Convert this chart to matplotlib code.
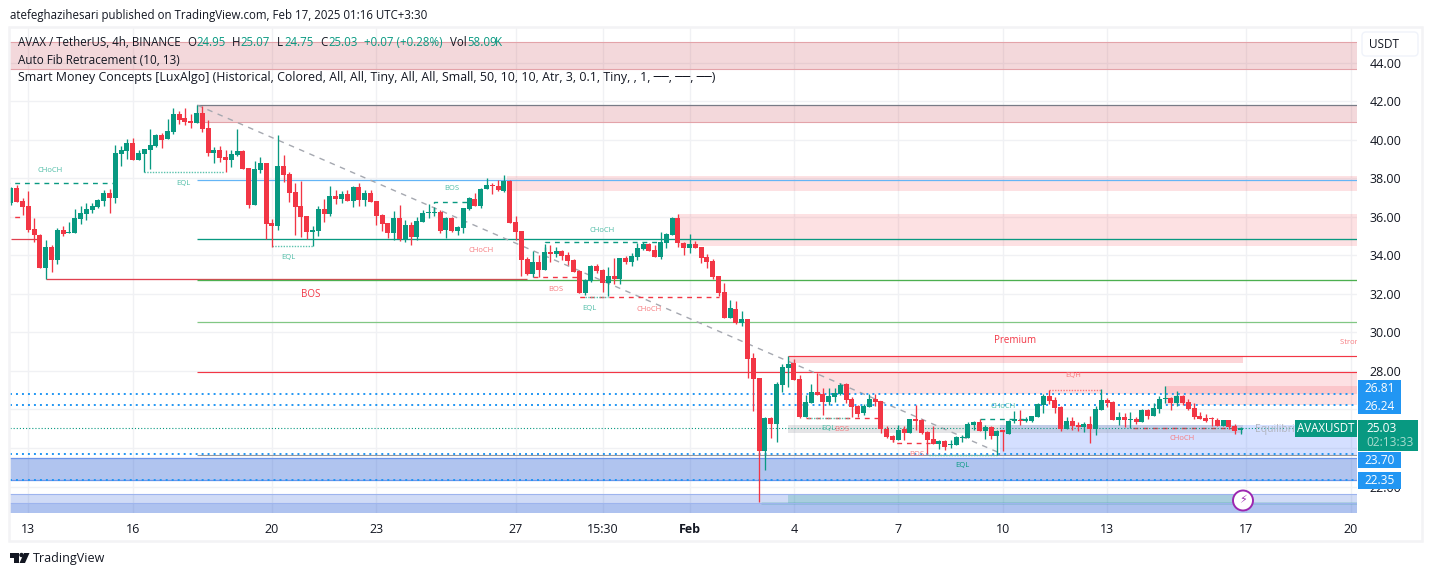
import matplotlib
matplotlib.use('Agg')
import matplotlib.pyplot as plt
from matplotlib.patches import Rectangle, Circle, Polygon, FancyBboxPatch

plt.rcParams['font.family'] = ['Open Sans', 'DejaVu Sans']

UP = '#089981'
DOWN = '#f23645'
INK = '#131722'
GRID = '#f0f1f4'
TAG = '#2196f3'

# 4h candles, oldest first
opens = [36.69, 37.47, 36.81, 36.55, 35.34, 35.05, 33.35, 34.43, 33.75, 35.31,
         35.15, 35.15, 35.88, 36.14, 36.34, 36.50, 36.81, 37.23, 36.97, 39.25,
         39.40, 39.82, 38.94, 39.25, 39.46, 39.66, 40.22, 40.03, 40.39, 41.32,
         41.12, 40.96, 40.86, 41.38, 40.60, 39.30, 39.46, 39.10, 38.95, 39.20,
         39.41, 38.53, 36.61, 38.43, 38.79, 35.68, 35.52, 38.63, 38.22, 37.29,
         36.56, 36.04, 35.21, 35.26, 36.40, 36.14, 37.08, 36.92, 37.18, 36.82,
         37.54, 36.87, 37.23, 36.82, 36.09, 35.68, 35.16, 35.94, 34.85, 35.57,
         34.95, 35.72, 36.19, 36.19, 36.24, 35.31, 35.93, 35.26, 35.41, 36.40,
         36.92, 36.55, 37.43, 37.64, 37.59, 37.33, 37.85, 35.72, 35.26, 33.80,
         33.03, 33.65, 33.23, 34.17, 34.06, 34.22, 34.01, 33.75, 33.18, 32.04,
         32.66, 33.44, 33.23, 32.56, 32.92, 32.77, 33.86, 33.65, 33.91, 34.33,
         34.59, 34.28, 33.91, 34.64, 35.05, 35.94, 34.64, 34.38, 34.59, 34.43,
         33.91, 33.70, 32.93, 32.10, 30.75, 31.21, 30.49, 30.70, 28.67, 27.64,
         23.85, 25.56, 25.25, 27.27, 28.15, 28.41, 27.58, 25.61, 26.34, 26.91,
         26.81, 26.39, 26.65, 26.81, 27.32, 26.55, 26.18, 25.82, 26.13, 26.55,
         26.44, 24.99, 24.63, 24.42, 24.99, 24.78, 25.51, 25.46, 24.83, 24.47,
         24.21, 24.37, 24.16, 24.16, 24.52, 24.52, 25.20, 25.35, 24.89, 25.09,
         24.63, 24.89, 24.73, 25.40, 25.46, 25.40, 25.40, 25.61, 26.23, 26.70,
         26.49, 26.13, 24.99, 25.40, 25.20, 25.09, 25.25, 24.99, 25.97, 26.49,
         26.39, 25.46, 25.61, 25.46, 25.51, 25.35, 25.97, 25.66, 26.03, 26.55,
         26.60, 26.34, 26.70, 26.39, 26.08, 25.66, 25.56, 25.54, 25.46, 25.15,
         25.46, 25.15, 24.95]
highs = [37.52, 37.64, 36.95, 37.33, 35.91, 35.08, 34.79, 34.53, 35.39, 35.51,
         35.74, 36.40, 36.55, 36.72, 36.72, 36.91, 37.38, 37.43, 39.72, 39.66,
         40.03, 40.08, 39.46, 39.51, 40.55, 40.29, 40.32, 41.06, 41.62, 41.48,
         41.64, 41.32, 41.79, 41.74, 41.01, 39.63, 39.67, 39.46, 39.46, 40.55,
         39.46, 38.53, 38.89, 39.10, 38.79, 35.88, 40.24, 39.20, 38.32, 37.75,
         37.86, 36.04, 35.52, 36.56, 36.92, 37.60, 37.39, 37.34, 37.39, 37.60,
         37.75, 37.39, 37.39, 36.82, 36.14, 35.68, 36.30, 36.61, 35.83, 35.73,
         36.00, 36.35, 36.66, 36.48, 36.35, 35.98, 35.98, 35.52, 36.45, 37.02,
         37.23, 37.49, 38.00, 37.75, 37.90, 38.16, 37.90, 36.03, 35.26, 33.92,
         34.22, 34.01, 34.58, 34.53, 34.43, 34.27, 34.17, 33.80, 33.23, 32.77,
         33.49, 33.54, 33.28, 33.39, 33.86, 33.86, 33.96, 34.12, 34.64, 34.69,
         34.64, 34.53, 35.21, 35.16, 35.99, 36.14, 34.69, 35.11, 34.74, 34.43,
         34.07, 33.81, 32.93, 32.56, 31.68, 31.63, 31.11, 30.70, 28.93, 27.64,
         25.61, 25.61, 27.43, 28.36, 28.78, 28.62, 27.79, 26.75, 27.32, 27.91,
         27.10, 27.12, 27.12, 27.38, 27.38, 26.65, 26.23, 26.29, 26.81, 26.81,
         26.44, 25.15, 24.68, 25.20, 25.15, 25.51, 26.23, 25.51, 24.89, 25.15,
         24.42, 24.42, 24.42, 24.63, 24.68, 25.35, 25.40, 25.51, 25.20, 25.15,
         24.94, 24.94, 25.46, 25.92, 25.98, 25.61, 25.66, 26.34, 26.80, 27.01,
         26.65, 26.18, 25.61, 25.61, 25.35, 25.35, 25.66, 26.18, 27.06, 26.60,
         26.44, 25.87, 25.82, 25.87, 25.61, 26.03, 26.03, 26.34, 26.70, 27.22,
         26.65, 26.96, 26.75, 26.55, 26.34, 25.87, 25.77, 25.61, 25.56, 25.46,
         25.46, 25.25, 25.07]
lows = [36.60, 36.78, 36.08, 35.22, 34.70, 33.35, 32.75, 33.15, 33.54, 35.01,
        35.15, 35.15, 35.62, 35.83, 36.21, 36.43, 36.55, 36.19, 36.71, 38.63,
        38.99, 38.94, 38.94, 38.31, 38.47, 39.61, 39.56, 40.03, 40.29, 40.80,
        40.75, 40.60, 40.86, 40.39, 39.15, 38.78, 38.84, 38.32, 38.58, 39.15,
        38.48, 36.46, 36.61, 38.27, 34.85, 34.43, 35.31, 37.80, 36.77, 35.05,
        34.95, 34.85, 34.48, 35.00, 35.73, 36.04, 36.66, 36.71, 36.82, 36.51,
        36.56, 36.56, 36.77, 35.57, 35.26, 34.90, 34.80, 34.74, 34.69, 34.54,
        34.80, 35.72, 35.93, 36.03, 35.15, 34.89, 35.20, 35.05, 35.15, 36.35,
        36.55, 36.45, 37.43, 37.18, 37.33, 37.28, 35.69, 34.79, 32.92, 32.97,
        32.87, 32.89, 33.23, 33.65, 33.91, 33.75, 33.49, 33.13, 32.04, 31.94,
        32.61, 33.08, 32.09, 31.88, 32.51, 32.51, 33.55, 33.45, 33.76, 34.28,
        34.22, 33.91, 33.81, 34.38, 35.05, 34.43, 34.02, 34.12, 34.38, 33.60,
        33.34, 32.77, 31.89, 30.75, 30.75, 30.44, 30.33, 27.64, 25.92, 21.20,
        22.86, 24.52, 24.32, 26.91, 27.17, 27.53, 25.56, 25.61, 26.34, 26.75,
        25.72, 26.23, 26.39, 26.75, 26.34, 25.61, 25.61, 25.72, 26.13, 26.18,
        24.78, 24.52, 24.32, 24.42, 24.42, 24.78, 24.94, 24.73, 23.69, 24.21,
        23.95, 23.90, 24.00, 24.16, 24.32, 24.52, 24.94, 24.89, 24.47, 24.47,
        23.64, 23.85, 24.73, 25.30, 25.20, 25.35, 25.35, 25.61, 25.82, 26.29,
        25.82, 24.89, 24.99, 24.94, 24.89, 24.83, 24.26, 24.68, 25.97, 26.13,
        25.46, 25.20, 25.09, 25.04, 25.25, 25.35, 25.51, 25.66, 25.82, 26.34,
        25.97, 26.18, 26.23, 25.97, 25.51, 25.51, 25.35, 25.15, 25.15, 25.15,
        24.99, 24.73, 24.75]
closes = [37.47, 36.78, 36.52, 35.31, 35.05, 33.35, 34.43, 33.75, 35.31, 35.10,
          35.19, 35.93, 36.19, 36.40, 36.55, 36.85, 37.23, 36.97, 39.30, 39.46,
          39.82, 38.94, 39.30, 39.49, 39.72, 40.23, 39.98, 40.44, 41.32, 41.01,
          40.91, 40.86, 41.38, 40.55, 39.30, 39.46, 39.05, 38.95, 39.26, 39.41,
          38.48, 36.61, 38.48, 38.79, 35.63, 35.52, 38.63, 38.17, 37.23, 36.51,
          35.99, 35.21, 35.31, 36.40, 36.14, 37.08, 36.92, 37.18, 36.82, 37.54,
          36.87, 37.23, 36.77, 36.04, 35.63, 35.16, 35.94, 34.85, 35.57, 34.95,
          35.78, 36.19, 36.24, 36.24, 35.26, 35.93, 35.26, 35.46, 36.45, 36.97,
          36.55, 37.43, 37.64, 37.61, 37.38, 37.85, 35.69, 35.20, 33.75, 33.03,
          33.65, 33.23, 34.17, 34.06, 34.22, 33.96, 33.70, 33.13, 32.04, 32.71,
          33.44, 33.18, 32.56, 32.92, 32.77, 33.86, 33.65, 33.96, 34.38, 34.59,
          34.22, 33.91, 34.69, 35.11, 35.94, 34.64, 34.38, 34.59, 34.38, 33.86,
          33.65, 32.87, 32.04, 30.75, 31.27, 30.49, 30.70, 28.62, 27.58, 23.85,
          25.56, 25.25, 27.32, 28.21, 28.36, 27.53, 25.61, 26.39, 26.91, 26.75,
          26.39, 26.70, 26.86, 27.27, 26.49, 26.13, 25.77, 26.18, 26.55, 26.39,
          24.99, 24.57, 24.42, 24.94, 24.78, 25.51, 25.40, 24.78, 24.42, 24.21,
          24.37, 24.06, 24.21, 24.57, 24.57, 25.25, 25.35, 24.89, 25.09, 24.63,
          24.89, 24.85, 25.40, 25.51, 25.40, 25.51, 25.66, 26.29, 26.70, 26.44,
          26.08, 24.99, 25.40, 25.15, 25.09, 25.25, 24.99, 26.03, 26.49, 26.34,
          25.46, 25.61, 25.46, 25.51, 25.35, 25.97, 25.66, 26.08, 26.55, 26.58,
          26.34, 26.70, 26.34, 26.03, 25.61, 25.51, 25.40, 25.51, 25.15, 25.46,
          25.09, 24.89, 25.03]

# axis labelling, 26.00 and 24.00 sit under the price tags
price_ticks = [44, 42, 40, 38, 36, 34, 32, 30, 28, 26, 24, 22]
price_labels = ['44.00', '42.00', '40.00', '38.00', '36.00', '34.00', '32.00', '30.00',
                '28.00', '', '', '22.00']
time_ticks = [3, 21, 45, 63, 87, 102, 117, 135, 153, 171, 189, 213, 231]
time_labels = ['13', '16', '20', '23', '27', '15:30', 'Feb', '4', '7', '10', '13', '17', '20']

# start, end, low, high, colour, alpha
zones = [
    (-1, 233, 43.66, 45.06, '#c43340', 0.19),
    (32.1, 233, 40.91, 41.79, '#c43340', 0.19),
    (85.5, 233, 37.33, 38.11, DOWN, 0.15),
    (115, 233, 34.48, 36.14, DOWN, 0.15),
    (134, 212.4, 28.41, 28.77, DOWN, 0.2),
    (139, 233, 26.80, 27.94, DOWN, 0.15),
    (199, 233, 26.80, 27.22, DOWN, 0.15),
    (199, 233, 26.25, 26.80, DOWN, 0.15),
    (170.5, 233, 23.64, 25.19, '#2962ff', 0.2),
    (134, 212.4, 24.78, 25.19, '#787b86', 0.2),
    (-1, 233, 22.34, 23.48, '#2a5fd6', 0.37),
    (-1, 233, 20.60, 21.62, '#2a5fd6', 0.22),
    (-1, 233, 20.60, 21.15, '#2a5fd6', 0.2),
    (134, 212.4, 21.15, 21.62, UP, 0.2),
]
# start, end, price, colour, width
levels = [
    (32.1, 233, 37.90, '#64b5f6', 0.9),
    (32.1, 233, 34.87, UP, 0.95),
    (0, 4.5, 34.84, '#e0404f', 0.9),
    (6, 89, 32.78, '#e0404f', 0.95),
    (32.1, 233, 32.72, '#4caf50', 0.95),
    (32.1, 233, 30.56, '#81c784', 0.9),
    (32.1, 233, 27.94, DOWN, 0.85),
    (134, 233, 28.77, DOWN, 0.85),
    (32.1, 233, 23.63, '#9598a1', 0.8),
    (129.3, 233, 21.17, UP, 0.95),
    (32.1, 233, 41.79, '#787b86', 0.9),
    (32.1, 233, 40.91, '#e3a3a9', 0.8),
    (-1, 233, 45.06, '#e3a3a9', 0.8),
    (-1, 233, 43.66, '#e3a3a9', 0.8),
    (-1, 233, 23.48, '#6d94e8', 0.9),
    (-1, 233, 22.34, '#6d94e8', 0.9),
    (-1, 233, 21.62, '#9db4ee', 0.8),
    (-1, 233, 21.15, '#9db4ee', 0.8),
]
# start, end, price, price at the start kink, colour
dashes = [
    (-1, 18, 37.77, 37.77, UP),
    (-1, 2.2, 36.01, 36.01, DOWN),
    (73, 79, 36.74, 36.20, UP),
    (92, 112, 34.69, 34.17, UP),
    (90, 98, 32.87, 32.87, DOWN),
    (98, 122, 31.83, 32.30, DOWN),
    (137, 149.5, 25.56, 25.56, DOWN),
    (152, 158.5, 24.26, 24.57, DOWN),
    (167, 175.5, 25.51, 25.51, UP),
    (193.5, 210.7, 25.06, 25.06, DOWN),
]
dots = [
    (23, 36.7, 38.32, '#5bc2ad'),
    (45, 52, 34.50, '#5bc2ad'),
    (99, 103, 31.83, '#5bc2ad'),
    (137.5, 144.5, 25.58, '#5bc2ad'),
    (158.3, 170, 23.65, '#5bc2ad'),
    (179, 188, 27.01, '#f77c80'),
]
alert_prices = [26.81, 26.24, 23.70, 22.35]
last_price = 25.03

# text, index, price, colour, size
labels = [
    ('CHoCH', 6.7, 38.42, '#4fbda7', 5.5), ('EQL', 29.8, 37.70, '#4fbda7', 5.5),
    ('BOS', 51.7, 31.99, DOWN, 7), ('EQL', 47.8, 33.91, '#4fbda7', 5.5),
    ('BOS', 76, 37.44, '#4fbda7', 5.5), ('CHoCH', 81, 34.27, '#f77c80', 5.5),
    ('CHoCH', 101.9, 35.31, '#4fbda7', 5.5), ('BOS', 94, 32.25, '#f77c80', 5.5),
    ('EQL', 99.8, 31.26, '#4fbda7', 5.5), ('CHoCH', 110, 31.21, '#f77c80', 5.5),
    ('Premium', 173.1, 29.60, DOWN, 7), ('EQH', 183.1, 27.74, '#f77c80', 5.5),
    ('CHoCH', 171, 26.18, '#4fbda7', 5.5), ('EQL', 141, 24.99, '#4fbda7', 5.5),
    ('BOS', 143.3, 24.94, '#f77c80', 5.5), ('BOS', 156.2, 23.69, '#f77c80', 5.5),
    ('EQL', 164, 23.07, UP, 5.5), ('CHoCH', 202, 24.47, '#f77c80', 5.5),
]

fig = plt.figure(figsize=(14.33, 5.76), dpi=100)
W, H = 1433.0, 576.0

ax = fig.add_axes([10 / W, 1 - 513 / H, 1347 / W, 485 / H])
ax.set_xlim(-0.17, 232.07)
ax.set_ylim(20.63, 45.79)
for side in ax.spines.values():
    side.set_visible(False)
ax.set_axisbelow(True)
ax.grid(True, color=GRID, linewidth=1.0)
ax.set_yticks(price_ticks)
ax.set_yticklabels(price_labels, fontsize=9, color=INK)
ax.yaxis.tick_right()
ax.set_xticks(time_ticks)
ax.set_xticklabels(time_labels, fontsize=9, color=INK)
ax.tick_params(axis='both', length=0)
ax.tick_params(axis='y', pad=9)
ax.tick_params(axis='x', pad=7)
ax.get_xticklabels()[6].set_fontweight('bold')

for x0, x1, low, high, colour, alpha in zones:
    ax.add_patch(Rectangle((x0, low), x1 - x0, high - low, facecolor=colour,
                           alpha=alpha, linewidth=0, zorder=1))
for x0, x1, price, colour, width in levels:
    ax.plot([x0, x1], [price, price], color=colour, linewidth=width, zorder=2,
            solid_capstyle='butt')
ax.plot([32.1, 170.5], [41.79, 23.74], color='#a5a8b0', linewidth=1.0,
        linestyle=(0, (4, 4)), zorder=2)
for x0, x1, price, kink, colour in dashes:
    ax.plot([x0, x0, x1], [kink, price, price], color=colour, linewidth=1.0,
            linestyle=(0, (3.5, 3.5)), zorder=2)
for x0, x1, price, colour in dots:
    ax.plot([x0, x1], [price, price], color=colour, linewidth=1.0,
            linestyle=(0, (1, 1)), zorder=2)
for price in alert_prices:
    ax.axhline(price, color=TAG, linewidth=1.4, linestyle=(0, (1.0, 2.08)), zorder=3)
ax.axhline(last_price, color=UP, linewidth=0.8, linestyle=(0, (1, 1.8)), zorder=3)

for i in range(len(opens)):
    colour = UP if closes[i] >= opens[i] else DOWN
    ax.vlines(i, lows[i], highs[i], color=colour, linewidth=0.95, zorder=4)
    ax.bar(i, max(abs(closes[i] - opens[i]), 0.06), bottom=min(opens[i], closes[i]),
           width=0.86, color=colour, linewidth=0, zorder=5)

for text, x, y, colour, size in labels:
    ax.text(x, y, text, color=colour, fontsize=size, ha='center', va='center', zorder=6)
ax.text(229.1, 29.45, 'Strong High', color='#f77c80', fontsize=5.5, ha='left',
        va='center', clip_on=True, zorder=6)
ax.text(214.5, 24.94, 'Equilibrium', color='#b2b5be', fontsize=7.5, ha='left',
        va='center', clip_on=True, zorder=6)

# page furniture on top, laid out in picture pixels
top = fig.add_axes([0, 0, 1, 1], zorder=10)
top.set_xlim(0, W)
top.set_ylim(H, 0)
top.axis('off')
top.patch.set_alpha(0)

top.add_patch(Rectangle((9.5, 26.5), 1413, 514, fill=False, edgecolor='#f3f3f5', linewidth=1.8))
top.add_patch(Rectangle((1357, 515), 40, 24, facecolor='white', linewidth=0))

top.text(10, 15.5, 'atefeghazihesari published on TradingView.com, Feb 17, 2025 01:16 UTC+3:30',
         fontsize=8.3, color=INK, va='center')
header = [
    (18, 'AVAX / TetherUS, 4h, BINANCE', INK), (187.5, 'O', INK), (196, '24.95', UP),
    (232, 'H', INK), (240, '25.07', UP), (277, 'L', INK), (284, '24.75', UP),
    (320, 'C', INK), (328, '25.03', UP), (364, '+0.07 (+0.28%)', UP),
    (450, 'Vol', INK), (467, '58.09', UP), (495, 'K', UP),
]
for x, text, colour in header:
    top.text(x, 43, text, fontsize=8.3, color=colour, va='center')
top.text(18, 60, 'Auto Fib Retracement (10, 13)', fontsize=8.5, color=INK, va='center')
top.text(18, 77, 'Smart Money Concepts [LuxAlgo] (Historical, Colored, All, All, Tiny, All, All, '
         'Small, 50, 10, 10, Atr, 3, 0.1, Tiny, , 1, \u2500\u2500, \u2500\u2500, \u2500\u2500)',
         fontsize=8.9, color=INK, va='center')

top.add_patch(FancyBboxPatch((1362, 32), 56, 24, boxstyle='round,pad=0,rounding_size=4',
                             facecolor='white', edgecolor='#f0f3fa', linewidth=1))
top.text(1384, 44.5, 'USDT', fontsize=8.5, color=INK, ha='center', va='center')

for y0, y1, text in [(380, 397, '26.81'), (397, 414, '26.24'), (452, 468, '23.70'), (472, 489, '22.35')]:
    top.add_patch(Rectangle((1358, y0), 43, y1 - y0, facecolor=TAG, linewidth=0))
    top.text(1380, (y0 + y1) / 2 + 0.5, text, fontsize=8.6, color='white', ha='center', va='center')

top.add_patch(Rectangle((1358, 420), 60, 31, facecolor=UP, linewidth=0))
top.text(1366, 428.5, '25.03', fontsize=8.6, color='white', va='center')
top.text(1366, 442.5, '02:13:33', fontsize=8.6, color='#a8dccf', va='center')
top.add_patch(Rectangle((1295, 420), 62, 17, facecolor=UP, linewidth=0))
top.text(1326, 428.5, 'AVAXUSDT', fontsize=8.3, color='white', ha='center', va='center')

top.add_patch(Circle((1243, 500.5), 10, facecolor='white', edgecolor='#9c27b0', linewidth=1.4))
top.text(1243, 500.5, '\u26a1', fontsize=8, color='#9c27b0', ha='center', va='center',
         family='DejaVu Sans')

# logo
top.add_patch(Polygon([(10, 553), (19, 553), (19, 563), (14, 563), (14, 558), (10, 558)],
                      facecolor=INK, linewidth=0))
top.add_patch(Circle((21.5, 555), 2.2, facecolor=INK, linewidth=0))
top.add_patch(Polygon([(24, 553), (29.5, 553), (25, 563), (19.5, 563)], facecolor=INK, linewidth=0))
top.text(33, 558.5, 'TradingView', fontsize=9, color=INK, va='center')

fig.savefig('out.png', dpi=100)
